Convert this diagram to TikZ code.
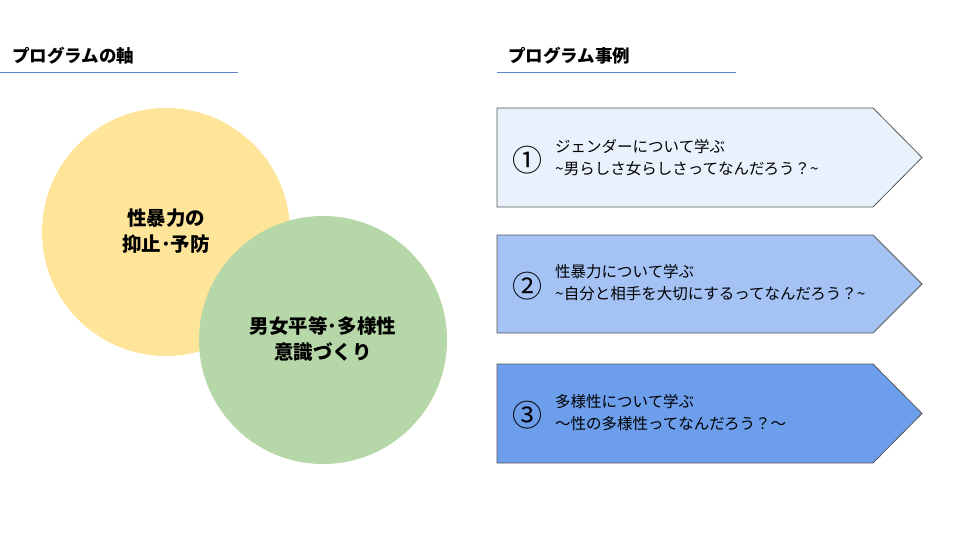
\documentclass[tikz,border=0pt]{standalone}
\usepackage{fontspec}
\newfontfamily\jp{Noto Sans CJK JP}
\usetikzlibrary{positioning}
\definecolor{ylw}{HTML}{FFE599}
\definecolor{grn}{HTML}{B6D7A8}
\definecolor{boxa}{HTML}{E8F1FC}
\definecolor{boxb}{HTML}{A4C2F4}
\definecolor{boxc}{HTML}{6D9EEB}
\definecolor{rule}{HTML}{5B87C8}
\definecolor{edge}{HTML}{595959}
\tikzset{
  heading/.style={font=\jp\bfseries\fontsize{17.5}{20}\selectfont, anchor=west, inner sep=0pt},
  circ/.style={circle, minimum size=248pt, inner sep=0pt},
  circtext/.style={font=\jp\bfseries\fontsize{19.5}{26}\selectfont, align=center, inner sep=0pt},
  arrowbox/.style={draw=edge, line width=0.8pt},
  num/.style={font=\jp\fontsize{30}{30}\selectfont, inner sep=0pt},
  boxtext/.style={font=\jp\fontsize{15.5}{22}\selectfont, align=left, anchor=west, inner sep=0pt},
}
\begin{document}
\begin{tikzpicture}[x=1pt, y=-1pt]
\useasboundingbox (0,0) rectangle (960,540);
% headings
\node[heading] (h1) at (12,56) {プログラムの軸};
\node[heading] (h2) at (508,56) {プログラム事例};
\draw[rule, line width=1pt] (0,73) -- (238,73);
\draw[rule, line width=1pt] (497,73) -- (736,73);
% circles
\node[circ, fill=ylw] (c1) at (166,232) {};
\node[circ, fill=grn] (c2) at (323,340) {};
\node[circtext] (t1) at (166,231) {性暴力の\\抑止･予防};
\node[circtext] (t2) at (323,339) {男女平等･多様性\\意識づくり};
% arrow boxes
\draw[arrowbox, fill=boxa] (497,108) -- (873,108) -- (922,157.5) -- (873,207) -- (497,207) -- cycle;
\draw[arrowbox, fill=boxb] (497,235) -- (873,235) -- (922,284) -- (873,333) -- (497,333) -- cycle;
\draw[arrowbox, fill=boxc] (497,364) -- (873,364) -- (922,413.5) -- (873,463) -- (497,463) -- cycle;
\node[num] (n1) at (527,160) {①};
\node[num] (n2) at (527,286) {②};
\node[num] (n3) at (527,415) {③};
\node[boxtext] (b1) at (555,157.5) {ジェンダーについて学ぶ\\\textasciitilde 男らしさ女らしさってなんだろう？\textasciitilde};
\node[boxtext] (b2) at (555,283) {性暴力について学ぶ\\\textasciitilde 自分と相手を大切にするってなんだろう？\textasciitilde};
\node[boxtext] (b3) at (555,413) {多様性について学ぶ\\〜性の多様性ってなんだろう？〜};
\end{tikzpicture}
\end{document}
